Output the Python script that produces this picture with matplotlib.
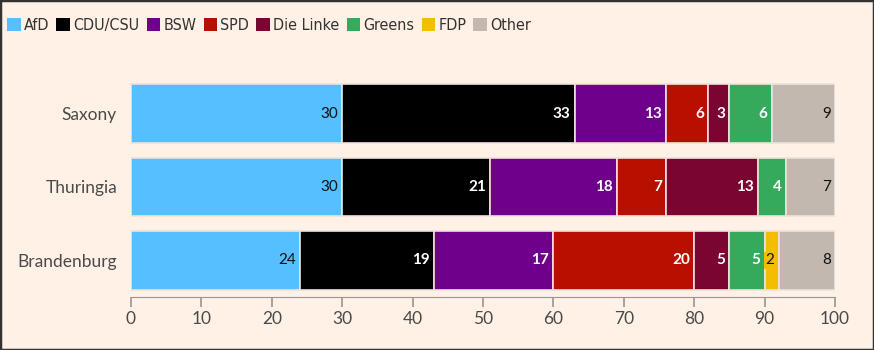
import matplotlib
matplotlib.use("Agg")
import matplotlib.pyplot as plt
from matplotlib.patches import Rectangle, Patch
import numpy as np

states = ["Saxony", "Thuringia", "Brandenburg"]
parties = ["AfD", "CDU/CSU", "BSW", "SPD", "Die Linke", "Greens", "FDP", "Other"]
values = {
    "AfD":       [30, 30, 24],
    "CDU/CSU":   [33, 21, 19],
    "BSW":       [13, 18, 17],
    "SPD":       [6, 7, 20],
    "Die Linke": [3, 13, 5],
    "Greens":    [6, 4, 5],
    "FDP":       [0, 0, 2],
    "Other":     [9, 7, 8],
}
colors = {
    "AfD": "#55bfff",
    "CDU/CSU": "#000000",
    "BSW": "#6e008c",
    "SPD": "#b81000",
    "Die Linke": "#7a0530",
    "Greens": "#35aa5c",
    "FDP": "#f5bd00",
    "Other": "#c2b8b0",
}
dark_text = {"AfD", "FDP", "Other"}
xticks = [0, 10, 20, 30, 40, 50, 60, 70, 80, 90, 100]

plt.rcParams['font.family'] = ['Lato', 'DejaVu Sans']
bg = "#fff1e6"
fig = plt.figure(figsize=(8.74, 3.5), dpi=100, facecolor=bg)
ax = fig.add_axes([131/874, 1 - 297/350, (835 - 131)/874, (297 - 77)/350])
ax.set_facecolor(bg)

y = np.arange(len(states))
left = np.zeros(len(states))
for p in parties:
    v = np.array(values[p], dtype=float)
    ax.barh(y, v, left=left, height=0.8, color=colors[p], edgecolor="#eee3dc",
            linewidth=1.2, label=p)
    for i, val in enumerate(v):
        if val <= 0:
            continue
        xr = left[i] + val - 0.6
        if p in dark_text:
            kw = dict(color="#111111", fontweight="normal")
        else:
            kw = dict(color="white", fontweight="bold")
        if p == "FDP":
            ax.text(left[i] + val / 2 - 0.2, i, f"{int(val)}", ha="center", va="center",
                    fontsize=11, color="#111111",
                    bbox=dict(boxstyle="square,pad=0.12", fc=colors[p], ec="none"))
        else:
            ax.text(xr, i, f"{int(val)}", ha="right", va="center", fontsize=11, **kw)
    left += v

ax.set_xlim(0, 100)
ax.set_ylim(2.5, -0.5)
ax.set_yticks(y)
ax.set_yticklabels(states, fontsize=12.5, color="#4a4a4a")
ax.set_xticks(xticks)
ax.set_xticklabels([str(t) for t in xticks], fontsize=12.5, color="#4a4a4a")
for s in ["top", "right", "left"]:
    ax.spines[s].set_visible(False)
ax.spines["bottom"].set_color("#9a9590")
ax.tick_params(axis="y", length=0, pad=10)
ax.tick_params(axis="x", length=7, color="#9a9590", width=1.2, pad=3)

handles = [Patch(facecolor=colors[p], edgecolor="none") for p in parties]
leg = fig.legend(handles, parties, loc="upper left",
                 bbox_to_anchor=(7/874, 1 - 18/350),
                 ncol=len(parties), frameon=False, borderaxespad=0, borderpad=0,
                 prop={'family': ['DejaVu Sans'], 'stretch': 'condensed', 'size': 11.5},
                 handlelength=0.85, handleheight=0.85, handletextpad=0.2,
                 columnspacing=0.45, labelcolor="#333333")

fig.patches.append(Rectangle((0, 0), 1, 1, transform=fig.transFigure, fill=False,
                             edgecolor="#333333", linewidth=2.5))
fig.savefig("out.png", dpi=100, facecolor=bg)
